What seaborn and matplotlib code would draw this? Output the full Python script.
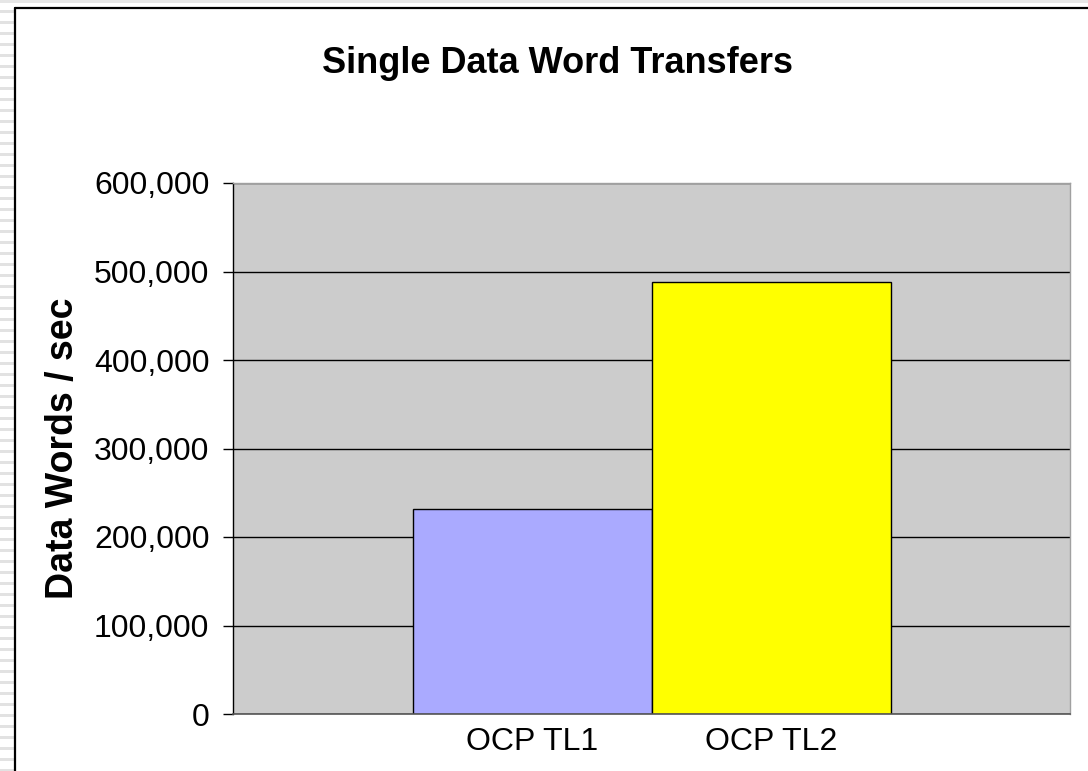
import matplotlib
matplotlib.use("Agg")
import matplotlib.pyplot as plt
import matplotlib.ticker as mticker
from matplotlib.patches import Rectangle
from matplotlib.lines import Line2D
import pandas as pd
import seaborn as sns

# data
categories = ["OCP TL1", "OCP TL2"]
words_per_sec = [232000, 488000]
bar_colors = ["#AAAAFF", "#FFFF00"]
y_ticks = [0, 100000, 200000, 300000, 400000, 500000, 600000]

sns.set_theme(style="white")
plt.rcParams["font.family"] = ["Liberation Sans", "DejaVu Sans"]

df = pd.DataFrame({"label": categories, "value": words_per_sec})

fig = plt.figure(figsize=(10.88, 7.71), dpi=100)
fig.patch.set_facecolor("white")

# slide-ish decoration: striped left strip, top strip, black frame
fig.add_artist(Rectangle((0, 1 - 3 / 771), 1, 3 / 771, transform=fig.transFigure,
                         color="#E6E6E6", lw=0))
for yy in range(10, 771, 11):
    fig.add_artist(Rectangle((0, 1 - (yy + 3) / 771), 14 / 1088, 3 / 771,
                             transform=fig.transFigure, color="#E2E2E2", lw=0))
fig.add_artist(Line2D([15 / 1088, 15 / 1088], [0, 1 - 8 / 771], transform=fig.transFigure,
                      color="black", lw=1.6))
fig.add_artist(Line2D([15 / 1088, 1], [1 - 8 / 771, 1 - 8 / 771], transform=fig.transFigure,
                      color="black", lw=1.6))

ax = fig.add_axes([233 / 1088, 57 / 771, 837 / 1088, 531 / 771])
ax.set_facecolor("#CCCCCC")

sns.barplot(data=df, x="label", y="value", hue="label", palette=bar_colors,
            saturation=1, width=1.0, edgecolor="black", linewidth=1.0,
            legend=False, ax=ax)

ax.set_ylim(0, 600000)
ax.set_xlim(-1.253, 2.249)
ax.set_yticks(y_ticks)
ax.yaxis.set_major_formatter(mticker.FuncFormatter(lambda v, p: f"{int(v):,}"))
ax.set_axisbelow(True)
ax.yaxis.grid(True, color="black", lw=1.0)
ax.xaxis.grid(False)

for side in ["top", "right"]:
    ax.spines[side].set_color("#A0A0A0")
    ax.spines[side].set_linewidth(1.0)
ax.spines["left"].set_color("black")
ax.spines["bottom"].set_color("#555555")
ax.spines["left"].set_linewidth(1.0)
ax.spines["bottom"].set_linewidth(1.2)

ax.tick_params(axis="y", left=True, length=7, width=1, color="black", pad=10,
               labelsize=23, labelcolor="black")
ax.tick_params(axis="x", bottom=False, length=0, pad=9,
               labelsize=23, labelcolor="black")

ax.set_xlabel("")
ax.set_ylabel("Data Words / sec", fontsize=27, fontweight="bold", color="black")
ax.yaxis.set_label_coords(-0.182, 0.5)

fig.text(557 / 1088, 1 - 73 / 771, "Single Data Word Transfers", ha="center",
         va="baseline", fontsize=26, fontweight="bold", color="black")

fig.savefig("out.png", dpi=100)
